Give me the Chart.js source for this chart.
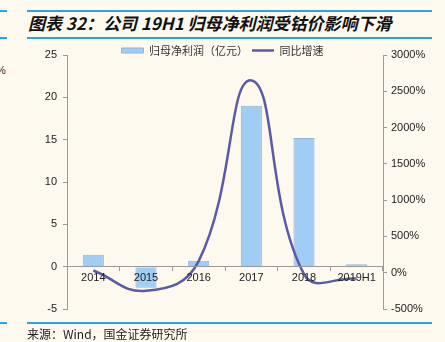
<!DOCTYPE html>
<html>
<head>
<meta charset="utf-8">
<script src="https://cdn.jsdelivr.net/npm/chart.js@4/dist/chart.umd.min.js"></script>
<style>
  html, body { margin: 0; padding: 0; }
  body { width: 445px; height: 342px; background: #fdf9ef; position: relative; overflow: hidden; font-family: "Liberation Sans", Arial, sans-serif; }
  .rule { position: absolute; height: 2px; background: #2ba3e3; }
  #title { position: absolute; left: 28px; top: 10px; font-family: "Noto Sans CJK SC", sans-serif; font-weight: bold; font-style: italic; font-size: 17px; color: #111; white-space: nowrap; }
  #source { position: absolute; left: 27px; top: 325px; font-family: "Noto Sans CJK SC", sans-serif; font-size: 12px; color: #222; white-space: nowrap; }
  #pct { position: absolute; left: -4px; top: 64px; font-size: 11px; color: #333; }
  #wrap { position: absolute; left: 0; top: 0; width: 445px; height: 342px; }
</style>
</head>
<body>
<div class="rule" style="left:0;width:7px;top:10px"></div>
<div class="rule" style="left:27px;width:405px;top:10px"></div>
<div id="title">图表 32：公司 19H1 归母净利润受钴价影响下滑</div>
<div class="rule" style="left:0;width:7px;top:37px"></div>
<div class="rule" style="left:27px;width:405px;top:37px"></div>
<div id="pct">%</div>
<div id="wrap"><canvas id="chart" width="445" height="342"></canvas></div>
<div class="rule" style="left:0;width:7px;top:322px"></div>
<div class="rule" style="left:27px;width:405px;top:322px"></div>
<div id="source">来源：Wind，国金证券研究所</div>

<script>
const categories = ['2014', '2015', '2016', '2017', '2018', '2019H1'];
const netProfit = [1.4, -2.5, 0.7, 19.0, 15.2, 0.3];      // 归母净利润（亿元）
const growthPct = [30, -250, 160, 2650, -20, -80];        // 同比增速 %

const leftTicks = { min: -5, max: 25, step: 5 };
const rightTicks = { min: -500, max: 3000, step: 500 };

const tickFont = { family: '"Liberation Sans", Arial, sans-serif', size: 11 };
const axisColor = '#9a9a9a';

// nudge the legend down so it sits just above the plot like the original
const legendShift = {
  id: 'legendShift',
  afterLayout(chart) {
    const lg = chart.legend;
    if (!lg) return;
    lg.top += 11;
    lg.bottom += 11;
  }
};

const ctx = document.getElementById('chart').getContext('2d');

new Chart(ctx, {
  data: {
    labels: categories,
    datasets: [
      {
        type: 'bar',
        label: '归母净利润（亿元）',
        data: netProfit,
        yAxisID: 'y',
        backgroundColor: '#9fcdf3',
        borderColor: '#8fb4d6',
        borderWidth: 1,
        barPercentage: 0.4,
        categoryPercentage: 1,
        pointStyle: 'rect',
        order: 2
      },
      {
        type: 'line',
        label: '同比增速',
        data: growthPct,
        yAxisID: 'y1',
        borderColor: '#5a5aa8',
        backgroundColor: '#5a5aa8',
        borderWidth: 2.5,
        pointRadius: 0,
        pointStyle: 'line',
        tension: 0.45,
        fill: false,
        order: 1
      }
    ]
  },
  options: {
    responsive: false,
    animation: false,
    layout: { padding: { left: 0, right: 0, top: 30, bottom: 33 } },
    plugins: {
      legend: {
        display: true,
        position: 'top',
        labels: {
          usePointStyle: true,
          pointStyleWidth: 22,
          boxHeight: 5,
          padding: 4,
          color: '#333',
          font: { family: '"Noto Sans CJK SC", sans-serif', size: 11 },
          sort: (a, b) => a.datasetIndex - b.datasetIndex
        }
      },
      tooltip: { enabled: false }
    },
    scales: {
      x: {
        type: 'category',
        position: { y: 0 },
        offset: true,
        grid: { drawOnChartArea: false, offset: true, tickLength: 4, color: axisColor, z: 1 },
        border: { color: axisColor, z: 1 },
        ticks: { color: '#222', font: tickFont, padding: 1, maxRotation: 0, z: 1 }
      },
      y: {
        type: 'linear',
        position: 'left',
        min: leftTicks.min,
        max: leftTicks.max,
        grid: { drawOnChartArea: false, tickLength: 4, color: axisColor },
        border: { color: axisColor },
        ticks: { stepSize: leftTicks.step, color: '#222', font: tickFont, padding: 6 },
        afterFit: scale => { scale.width = 67; }
      },
      y1: {
        type: 'linear',
        position: 'right',
        min: rightTicks.min,
        max: rightTicks.max,
        grid: { drawOnChartArea: false, tickLength: 4, color: axisColor },
        border: { color: axisColor },
        ticks: {
          stepSize: rightTicks.step,
          color: '#222',
          font: tickFont,
          padding: 4,
          callback: v => v + '%'
        },
        afterFit: scale => { scale.width = 62; }
      }
    }
  },
  plugins: [legendShift]
});
</script>
</body>
</html>
